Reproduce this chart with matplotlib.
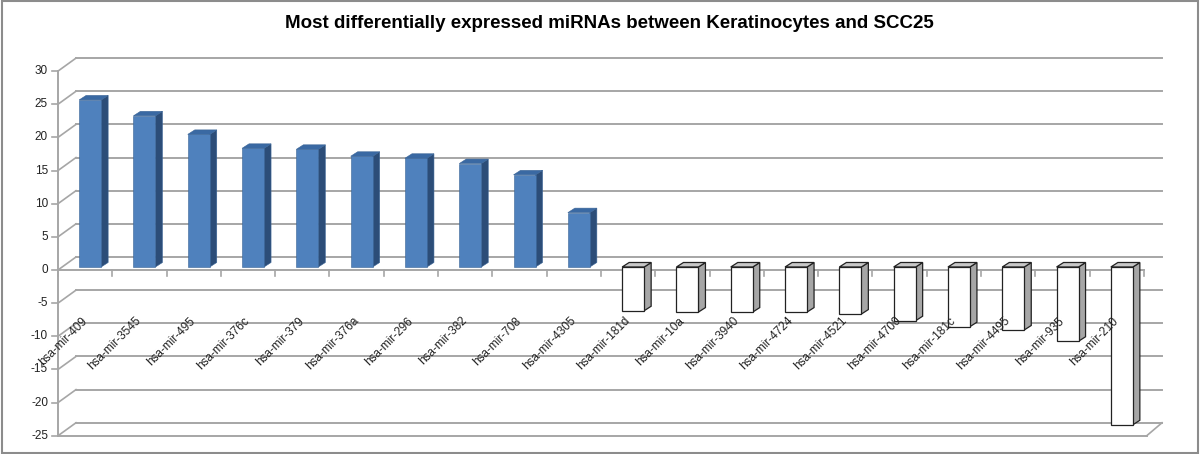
import matplotlib
matplotlib.use('Agg')
import matplotlib.pyplot as plt
from matplotlib.patches import Polygon, Rectangle

# data
mirnas = ['hsa-mir-409', 'hsa-mir-3545', 'hsa-mir-495', 'hsa-mir-376c', 'hsa-mir-379',
          'hsa-mir-376a', 'hsa-mir-296', 'hsa-mir-382', 'hsa-mir-708', 'hsa-mir-4305',
          'hsa-mir-181d', 'hsa-mir-10a', 'hsa-mir-3940', 'hsa-mir-4724', 'hsa-mir-4521',
          'hsa-mir-4700', 'hsa-mir-181c', 'hsa-mir-4495', 'hsa-mir-935', 'hsa-mir-210']
fold_change = [25.2, 22.8, 20.0, 17.9, 17.75, 16.7, 16.4, 15.6, 13.9, 8.2,
               -6.6, -6.8, -6.8, -6.8, -7.1, -8.1, -9.0, -9.5, -11.2, -23.8]
y_ticks = list(range(-25, 31, 5))
title = 'Most differentially expressed miRNAs between Keratinocytes and SCC25'

W, H = 1200, 454
PX_U = 54.3     # pixels per category
PX_V = 6.63     # pixels per value unit
X0, Y0 = 58, 270  # front origin in pixels (from top-left)

fig = plt.figure(figsize=(W / 100, H / 100), dpi=100)
ax = fig.add_axes([0, 0, 1, 1])
ax.set_xlim(-X0 / PX_U, (W - X0) / PX_U)
ax.set_ylim(-(H - Y0) / PX_V, Y0 / PX_V)
ax.axis('off')

n = len(mirnas)
ymin, ymax = y_ticks[0], y_ticks[-1]
# wall depth offset
DX, DY = 18 / PX_U, 13 / PX_V
grid_c = '#a6a6a6'

# back wall gridlines and left wall diagonals
for t in y_ticks:
    ax.plot([DX, n + DX], [t + DY, t + DY], color=grid_c, lw=1.4, zorder=1)
    ax.plot([0, DX], [t, t + DY], color=grid_c, lw=1.2, zorder=1)

# floor front edge and right diagonal
ax.plot([0, n + 0.05], [ymin, ymin], color=grid_c, lw=1.4, zorder=2)
ax.plot([n + 0.05, n + DX], [ymin, ymin + DY], color=grid_c, lw=1.2, zorder=2)

# value axis
ax.plot([0, 0], [ymin, ymax], color=grid_c, lw=1.4, zorder=2)
for t in y_ticks:
    ax.plot([-6 / PX_U, 0], [t, t], color=grid_c, lw=1.2, zorder=2)
    ax.text(-10 / PX_U, t, str(t), ha='right', va='center', fontsize=8.5,
            family='Liberation Sans', color='#222222')

# category axis at zero
ax.plot([0, n], [0, 0], color=grid_c, lw=1.4, zorder=2)
for k in range(n + 1):
    ax.plot([k, k], [0, -6 / PX_V], color=grid_c, lw=1.2, zorder=2)

# 3d bars
bw = 22 / PX_U
shift = 5 / PX_U
base = 3 / PX_V
bdx, bdy = 7 / PX_U, 4.5 / PX_V
for i, (name, v) in enumerate(zip(mirnas, fold_change)):
    cx = i + 0.5 + shift
    x0, x1 = cx - bw / 2, cx + bw / 2
    lo, hi = min(base, base + v), max(base, base + v)
    if v > 0:
        fc, sc, tc, ec, elw = '#4f81bd', '#2c4d78', '#3a69a3', '#3a6496', 0.4
    else:
        fc, sc, tc, ec, elw = '#ffffff', '#a6a6a6', '#c8c8c8', '#222222', 0.9
    ax.add_patch(Polygon([(x1, lo), (x1 + bdx, lo + bdy), (x1 + bdx, hi + bdy), (x1, hi)],
                         closed=True, fc=sc, ec=ec, lw=elw, zorder=3))
    ax.add_patch(Polygon([(x0, hi), (x0 + bdx, hi + bdy), (x1 + bdx, hi + bdy), (x1, hi)],
                         closed=True, fc=tc, ec=ec, lw=elw, zorder=3))
    ax.add_patch(Rectangle((x0, lo), bw, hi - lo, fc=fc, ec=ec, lw=elw, zorder=4))
    ax.text(i + 0.5, -7.4, name, rotation=45, rotation_mode='anchor', ha='right', va='center',
            fontsize=8.5, family='Liberation Sans', color='#222222', zorder=5)

fig.text(0.508, 1 - 23 / H, title, ha='center', va='center', fontsize=13.5,
         fontweight='bold', family='Liberation Sans', color='#000000')

# chart border
fig.add_artist(Rectangle((0.002, 0.003), 0.996, 0.994, transform=fig.transFigure,
                         fill=False, ec='#8c8c8c', lw=1.5))

fig.savefig('out.png', dpi=100)
